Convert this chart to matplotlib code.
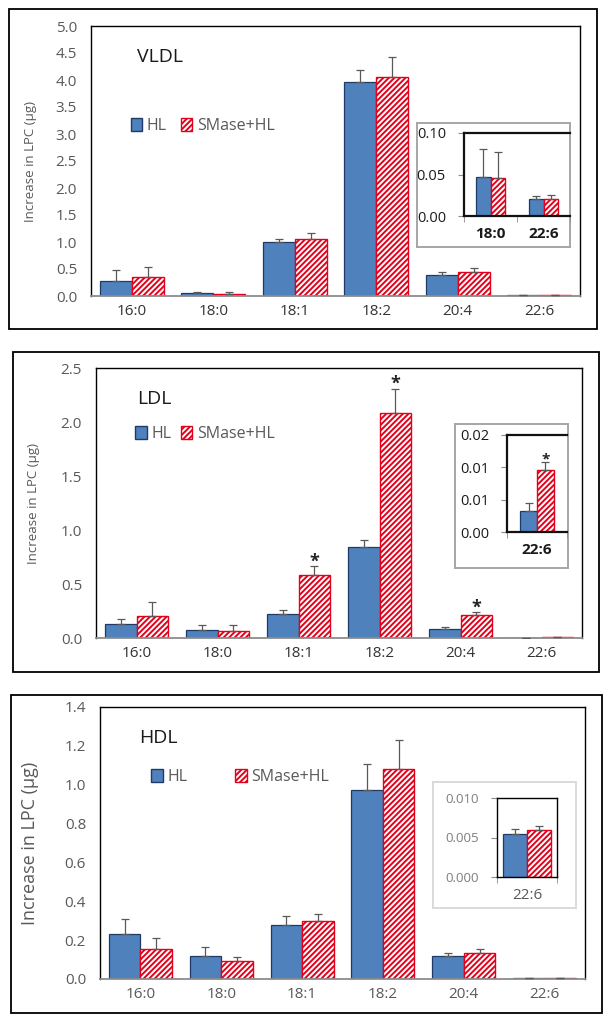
"""
LPC increase after HL vs SMase+HL treatment - VLDL / LDL / HDL panels
"""
import numpy as np
import matplotlib
matplotlib.use('Agg')
import matplotlib.pyplot as plt
from matplotlib.patches import Rectangle, Patch

plt.rcParams['font.family'] = ['Open Sans', 'DejaVu Sans']
plt.rcParams['hatch.linewidth'] = 1.4

W, H = 611, 1024

categories = ['16:0', '18:0', '18:1', '18:2', '20:4', '22:6']

# VLDL
vldl_hl = [0.28, 0.047, 1.00, 3.96, 0.39, 0.020]
vldl_hl_err = [0.20, 0.034, 0.055, 0.23, 0.05, 0.004]
vldl_sm = [0.35, 0.046, 1.055, 4.06, 0.44, 0.021]
vldl_sm_err = [0.19, 0.031, 0.115, 0.37, 0.08, 0.004]
vldl_sig = [False] * 6
vldl_inset_cats = ['18:0', '22:6']
vldl_inset_hl = [0.047, 0.020]
vldl_inset_hl_err = [0.034, 0.004]
vldl_inset_sm = [0.046, 0.021]
vldl_inset_sm_err = [0.031, 0.004]
vldl_inset_sig = [False, False]

# LDL
ldl_hl = [0.13, 0.07, 0.22, 0.84, 0.08, 0.0033]
ldl_hl_err = [0.045, 0.055, 0.04, 0.07, 0.025, 0.0012]
ldl_sm = [0.20, 0.065, 0.58, 2.08, 0.215, 0.0096]
ldl_sm_err = [0.13, 0.06, 0.085, 0.23, 0.025, 0.0012]
ldl_sig = [False, False, True, True, True, False]
ldl_inset_cats = ['22:6']
ldl_inset_hl = [0.0033]
ldl_inset_hl_err = [0.0012]
ldl_inset_sm = [0.0096]
ldl_inset_sm_err = [0.0012]
ldl_inset_sig = [True]

# HDL
hdl_hl = [0.23, 0.117, 0.28, 0.974, 0.118, 0.0054]
hdl_hl_err = [0.077, 0.048, 0.046, 0.131, 0.018, 0.0007]
hdl_sm = [0.153, 0.094, 0.30, 1.08, 0.134, 0.0060]
hdl_sm_err = [0.057, 0.021, 0.037, 0.148, 0.022, 0.0005]
hdl_sig = [False] * 6
hdl_inset_cats = ['22:6']
hdl_inset_hl = [0.0054]
hdl_inset_hl_err = [0.0007]
hdl_inset_sm = [0.0060]
hdl_inset_sm_err = [0.0005]
hdl_inset_sig = [False]

BLUE = '#4f81bd'
NAVY = '#1f3a66'
RED = '#e3001b'
GRAY = '#595959'
HATCH = '//////'


def rect(x0, y0, x1, y1):
    return [x0 / W, 1 - y1 / H, (x1 - x0) / W, (y1 - y0) / H]


def bars(ax, cats, hl, hl_err, sm, sm_err, sig, width, star_size=13):
    x = np.arange(len(cats))
    ax.bar(x - width / 2, hl, width, color=BLUE, edgecolor=NAVY, linewidth=0.9, zorder=2)
    ax.bar(x + width / 2, sm, width, color='white', edgecolor=RED, hatch=HATCH,
           linewidth=1.0, zorder=2)
    z = np.zeros(len(cats))
    ax.errorbar(x - width / 2, hl, yerr=[z, hl_err], fmt='none', ecolor=GRAY,
                elinewidth=0.9, capsize=3, capthick=0.9, zorder=3)
    ax.errorbar(x + width / 2, sm, yerr=[z, sm_err], fmt='none', ecolor=GRAY,
                elinewidth=0.9, capsize=3, capthick=0.9, zorder=3)
    for i, s in enumerate(sig):
        if s:
            ax.annotate('*', (x[i] + width / 2, sm[i] + sm_err[i]), xytext=(0, -3),
                        textcoords='offset points', ha='center', va='bottom',
                        fontsize=star_size, fontweight='bold', color='#222222')
    ax.set_xticks(x)
    ax.set_xlim(-0.5, len(cats) - 0.5)


def outer_box(fig, x0, y0, x1, y1, color='black', lw=1.3):
    fig.add_artist(Rectangle((x0 / W, 1 - y1 / H), (x1 - x0) / W, (y1 - y0) / H,
                             transform=fig.transFigure, fill=False, ec=color, lw=lw))


def main_panel(fig, pos, cats, hl, hl_err, sm, sm_err, sig, ylim, yticks, title,
               title_xy, leg_xy, leg_space, ylab_size, xlab_color, ylab_x):
    ax = fig.add_axes(rect(*pos))
    bars(ax, cats, hl, hl_err, sm, sm_err, sig, 0.39)
    ax.set_ylim(*ylim)
    ax.set_yticks(yticks)
    ax.set_yticklabels([f'{t:.1f}' for t in yticks])
    ax.set_xticklabels(cats)
    ax.tick_params(axis='y', length=0, pad=10, labelsize=11, labelcolor=GRAY)
    ax.tick_params(axis='x', length=0, pad=6, labelsize=11, labelcolor=xlab_color)
    for s in ['top', 'left', 'right']:
        ax.spines[s].set_color('black')
        ax.spines[s].set_linewidth(1.0)
    ax.spines['bottom'].set_color('#8c8c8c')
    ax.spines['bottom'].set_linewidth(1.3)
    ax.set_ylabel('Increase in LPC (µg)', fontsize=ylab_size, color=GRAY)
    ax.yaxis.set_label_coords(ylab_x, 0.5)
    ax.text(title_xy[0], title_xy[1], title, transform=ax.transAxes, fontsize=14,
            color='#1a1a1a', va='center', ha='left')
    handles = [Patch(facecolor=BLUE, edgecolor=NAVY, label='HL'),
               Patch(facecolor='white', edgecolor=RED, hatch=HATCH, label='SMase+HL')]
    ax.legend(handles=handles, loc='center left', bbox_to_anchor=leg_xy, ncol=2,
              frameon=False, fontsize=11.5, handlelength=0.7, handleheight=0.9,
              handletextpad=0.3, columnspacing=leg_space, borderaxespad=0,
              labelcolor=GRAY)
    return ax


def inset_panel(fig, frame, pos, cats, hl, hl_err, sm, sm_err, sig, ylim, yticks,
                ylabels, width, frame_color, bold, full_box, tick_color, tick_size):
    fa = fig.add_axes(rect(*frame), zorder=5)
    fa.set_xticks([])
    fa.set_yticks([])
    for s in fa.spines.values():
        s.set_color(frame_color)
        s.set_linewidth(1.4)
    ax = fig.add_axes(rect(*pos), zorder=6)
    ax.patch.set_alpha(0)
    bars(ax, cats, hl, hl_err, sm, sm_err, sig, width, star_size=11)
    ax.set_ylim(*ylim)
    ax.set_yticks(yticks)
    ax.set_yticklabels(ylabels)
    ax.set_xticklabels(cats)
    ax.set_xticks(np.arange(len(cats) + 1) - 0.5, minor=True)
    ax.tick_params(axis='x', which='major', length=0, pad=8, labelsize=11,
                   labelcolor='#1a1a1a' if bold else GRAY)
    ax.tick_params(axis='x', which='minor', length=4, color='#8c8c8c')
    ax.tick_params(axis='y', length=4, color='#8c8c8c', pad=9, labelsize=tick_size,
                   labelcolor=tick_color)
    if bold:
        for lab in ax.get_xticklabels():
            lab.set_fontweight('bold')
    if full_box:
        for s in ax.spines.values():
            s.set_color('black')
            s.set_linewidth(1.0)
    else:
        ax.spines['right'].set_visible(False)
        for s in ['top', 'left', 'bottom']:
            ax.spines[s].set_color('#111111')
            ax.spines[s].set_linewidth(1.6)
    return ax


fig = plt.figure(figsize=(W / 100, H / 100), dpi=100)

# VLDL
outer_box(fig, 9, 9, 597, 329)
main_panel(fig, (91, 26, 580, 296), categories, vldl_hl, vldl_hl_err, vldl_sm,
           vldl_sm_err, vldl_sig, (0, 5.0), np.arange(0, 5.01, 0.5), 'VLDL',
           (0.095, 0.885), (0.068, 0.63), 0.9, 9.5, '#333333', -0.11)
inset_panel(fig, (417, 123, 570, 247), (464, 133, 570, 216), vldl_inset_cats,
            vldl_inset_hl, vldl_inset_hl_err, vldl_inset_sm, vldl_inset_sm_err,
            vldl_inset_sig, (0, 0.10), [0, 0.05, 0.10], ['0.00', '0.05', '0.10'],
            0.27, '#a6a6a6', True, False, '#1a1a1a', 10.5)

# LDL
outer_box(fig, 13, 352, 599, 672)
main_panel(fig, (96, 368, 582, 638), categories, ldl_hl, ldl_hl_err, ldl_sm,
           ldl_sm_err, ldl_sig, (0, 2.5), np.arange(0, 2.51, 0.5), 'LDL',
           (0.085, 0.885), (0.068, 0.755), 0.6, 9.5, '#333333', -0.115)
inset_panel(fig, (455, 424, 568, 568), (507, 435, 567, 532), ldl_inset_cats,
            ldl_inset_hl, ldl_inset_hl_err, ldl_inset_sm, ldl_inset_sm_err,
            ldl_inset_sig, (0, 0.015), [0, 0.005, 0.010, 0.015],
            ['0.00', '0.01', '0.01', '0.02'], 0.28, '#a6a6a6', True, False,
            '#1a1a1a', 10.5)

# HDL
outer_box(fig, 11, 695, 602, 1013)
main_panel(fig, (100, 707, 585, 979), categories, hdl_hl, hdl_hl_err, hdl_sm,
           hdl_sm_err, hdl_sig, (0, 1.4), np.arange(0, 1.41, 0.2), 'HDL',
           (0.08, 0.885), (0.093, 0.743), 3.0, 13, GRAY, -0.125)
inset_panel(fig, (433, 782, 576, 908), (497, 798, 557, 877), hdl_inset_cats,
            hdl_inset_hl, hdl_inset_hl_err, hdl_inset_sm, hdl_inset_sm_err,
            hdl_inset_sig, (0, 0.010), [0, 0.005, 0.010],
            ['0.000', '0.005', '0.010'], 0.4, '#d9d9d9', False, True, '#7f7f7f', 9.5)

plt.savefig('out.png', dpi=100)
plt.close()
